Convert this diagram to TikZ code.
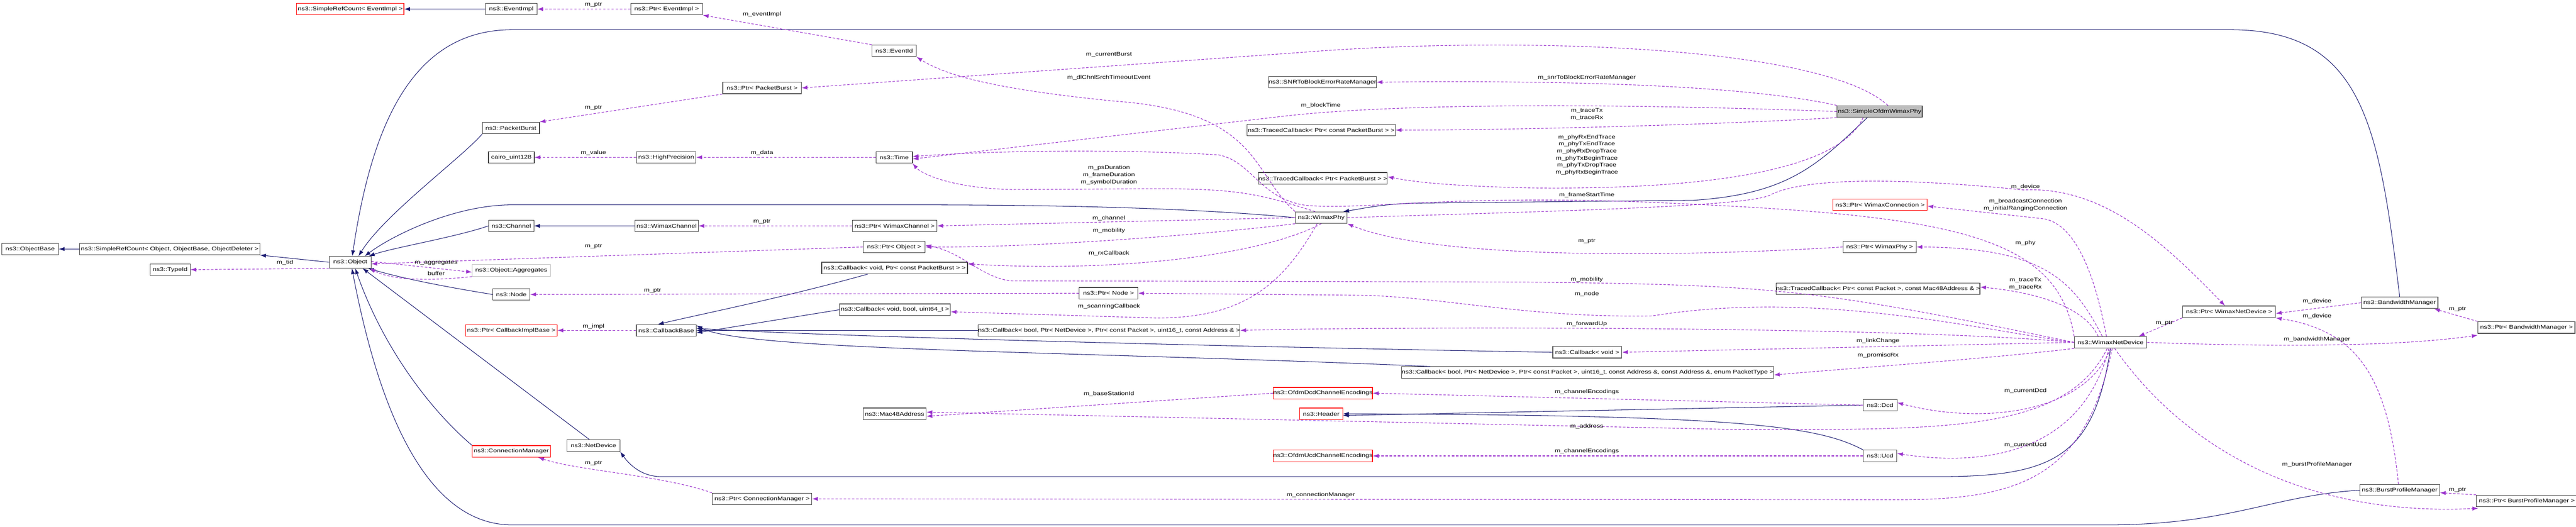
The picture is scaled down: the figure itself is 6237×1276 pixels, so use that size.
\documentclass[tikz,border=0pt]{standalone}
\usepackage{fontspec}
\setmainfont{Liberation Sans}
\usetikzlibrary{arrows.meta}
\definecolor{usec}{HTML}{9A32CD}
\definecolor{inhc}{HTML}{191970}
\newcommand\T[1]{\scalebox{1.25}[1]{#1}}
\tikzset{
 bx/.style={draw=black!75,line width=1.5pt,fill=white,minimum height=28pt,inner sep=0pt,font=\fontsize{13}{15}\selectfont},
 redbx/.style={bx,draw=red},
 graybx/.style={bx,draw=black!25},
 lab/.style={font=\fontsize{13}{15}\selectfont,align=center,inner sep=0pt},
 inh/.style={draw=inhc,line width=1.3pt,-{Latex[length=14pt,width=10pt]}},
 use/.style={draw=usec,line width=1.4pt,dash pattern=on 6pt off 4pt,-{Latex[length=14pt,width=10pt]}},
}
\begin{document}
\begin{tikzpicture}[x=1pt,y=-1pt]
\useasboundingbox (0,0) rectangle (6237,1276);
% nodes
\node[redbx,minimum width=260] (seri) at (848,22) {\T{ns3::SimpleRefCount< EventImpl >}};
\node[bx,minimum width=124] (evimpl) at (1238,22) {\T{ns3::EventImpl}};
\node[bx,minimum width=174] (ptrev) at (1614,22) {\T{ns3::Ptr< EventImpl >}};
\node[bx,minimum width=107] (evid) at (2165,123) {\T{ns3::EventId}};
\node[bx,minimum width=190] (ptrpb) at (1845,213) {\T{ns3::Ptr< PacketBurst >}};
\node[bx,minimum width=138] (pb) at (1237,310) {\T{ns3::PacketBurst}};
\node[bx,minimum width=249] (snr) at (3202,199) {\T{ns3::SNRToBlockErrorRateManager}};
\node[bx,fill=black!25,minimum width=206] (sofdm) at (4551,270) {\T{ns3::SimpleOfdmWimaxPhy}};
\node[bx,minimum width=359] (tcpb) at (3199,315) {\T{ns3::TracedCallback< Ptr< const PacketBurst > >}};
\node[bx,minimum width=311] (tcpb2) at (3203,432) {\T{ns3::TracedCallback< Ptr< PacketBurst > >}};
\node[bx,minimum width=111] (cairo) at (1238,381) {\T{cairo\_uint128}};
\node[bx,minimum width=144] (hp) at (1613,381) {\T{ns3::HighPrecision}};
\node[bx,minimum width=88] (time) at (2165,381) {\T{ns3::Time}};
\node[redbx,minimum width=228] (wconn) at (4552,496) {\T{ns3::Ptr< WimaxConnection >}};
\node[bx,minimum width=125] (phy) at (3199,527) {\T{ns3::WimaxPhy}};
\node[bx,minimum width=109] (chan) at (1238,547) {\T{ns3::Channel}};
\node[bx,minimum width=153] (wchan) at (1614,547) {\T{ns3::WimaxChannel}};
\node[bx,minimum width=205] (ptrwchan) at (2166,547) {\T{ns3::Ptr< WimaxChannel >}};
\node[bx,minimum width=177] (ptrphy) at (4551,598) {\T{ns3::Ptr< WimaxPhy >}};
\node[bx,minimum width=150] (ptrobj) at (2165,598) {\T{ns3::Ptr< Object >}};
\node[bx,minimum width=137] (objbase) at (73,603) {\T{ns3::ObjectBase}};
\node[bx,minimum width=436] (srcobj) at (411,603) {\T{ns3::SimpleRefCount< Object, ObjectBase, ObjectDeleter >}};
\node[bx,minimum width=101] (obj) at (848,635) {\T{ns3::Object}};
\node[bx,minimum width=97] (typeid) at (412,653) {\T{ns3::TypeId}};
\node[graybx,minimum width=189] (aggr) at (1238,655) {\T{ns3::Object::Aggregates}};
\node[bx,minimum width=353] (cbpb) at (2166,649) {\T{ns3::Callback< void, Ptr< const PacketBurst > >}};
\node[bx,minimum width=479] (tcmac) at (4547,699) {\T{ns3::TracedCallback< Ptr< const Packet >, const Mac48Address \& >}};
\node[bx,minimum width=142] (ptrnode) at (2684,710) {\T{ns3::Ptr< Node >}};
\node[bx,minimum width=90] (node) at (1238,713) {\T{ns3::Node}};
\node[bx,minimum width=185] (bwm) at (5810,733) {\T{ns3::BandwidthManager}};
\node[bx,minimum width=268] (cbscan) at (2167,750) {\T{ns3::Callback< void, bool, uint64\_t >}};
\node[bx,minimum width=225] (ptrwnd) at (5397,755) {\T{ns3::Ptr< WimaxNetDevice >}};
\node[bx,minimum width=235] (ptrbwm) at (6117,793) {\T{ns3::Ptr< BandwidthManager >}};
\node[redbx,minimum width=222] (cbib) at (1238,800) {\T{ns3::Ptr< CallbackImplBase >}};
\node[bx,minimum width=145] (cbbase) at (1613,800) {\T{ns3::CallbackBase}};
\node[bx,minimum width=633] (cbfwd) at (2685,800) {\T{ns3::Callback< bool, Ptr< NetDevice >, Ptr< const Packet >, uint16\_t, const Address \& >}};
\node[bx,minimum width=175] (wnd) at (5110,829) {\T{ns3::WimaxNetDevice}};
\node[bx,minimum width=167] (cbvoid) at (3843,853) {\T{ns3::Callback< void >}};
\node[bx,minimum width=878] (cbprom) at (3844,902) {\T{ns3::Callback< bool, Ptr< NetDevice >, Ptr< const Packet >, uint16\_t, const Address \&, const Address \&, enum PacketType >}};
\node[redbx,minimum width=233] (dcdenc) at (3203,952) {\T{ns3::OfdmDcdChannelEncodings}};
\node[bx,minimum width=82] (dcd) at (4552,981) {\T{ns3::Dcd}};
\node[bx,minimum width=153] (mac) at (2166,1002) {\T{ns3::Mac48Address}};
\node[redbx,minimum width=104] (header) at (3199,1002) {\T{ns3::Header}};
\node[bx,minimum width=128] (netdev) at (1437,1079) {\T{ns3::NetDevice}};
\node[redbx,minimum width=189] (connmgr) at (1238,1093) {\T{ns3::ConnectionManager}};
\node[redbx,minimum width=231] (ucdenc) at (3203,1104) {\T{ns3::OfdmUcdChannelEncodings}};
\node[bx,minimum width=81] (ucd) at (4552,1104) {\T{ns3::Ucd}};
\node[bx,minimum width=193] (bpm) at (5810,1187) {\T{ns3::BurstProfileManager}};
\node[bx,minimum width=241] (ptrconn) at (1845,1208) {\T{ns3::Ptr< ConnectionManager >}};
\node[bx,minimum width=244] (ptrbpm) at (6118,1213) {\T{ns3::Ptr< BurstProfileManager >}};
% inheritance
\draw[inh] (evimpl.west) -- (seri.east);
\draw[inh] (srcobj.west) -- (objbase.east);
\draw[inh] (obj.west) -- (srcobj.south east);
\draw[inh] (pb.south west) .. controls (1120,380) and (930,520) .. ([xshift=20pt]obj.north);
\draw[inh] (bwm.north) .. controls (5760,300) and (5720,72) .. (5400,72) -- (1240,72) .. controls (1000,72) and (900,300) .. ([xshift=5pt]obj.north);
\draw[inh] (phy.west) .. controls (2900,505) and (2600,496) .. (2200,496) -- (1240,496) .. controls (1100,496) and (950,570) .. ([xshift=35pt]obj.north);
\draw[inh] (chan.west) .. controls (1100,575) and (950,600) .. ([xshift=45pt]obj.north);
\draw[inh] (wchan.west) -- (chan.east);
\draw[inh] (node.west) .. controls (1050,690) and (960,670) .. ([xshift=-8pt]obj.south east);
\draw[inh] ([xshift=-10pt]netdev.north) -- ([xshift=30pt]obj.south);
\draw[inh] (connmgr.north west) .. controls (1050,1000) and (930,850) .. ([xshift=12pt]obj.south);
\draw[inh] (bpm.west) .. controls (5500,1200) and (5400,1271) .. (5100,1271) -- (1240,1271) .. controls (1000,1271) and (900,900) .. ([xshift=4pt]obj.south);
\draw[inh] ([xshift=-30pt]sofdm.south) .. controls (4400,400) and (4330,470) .. (4100,485) -- (3420,492) .. controls (3340,495) and (3300,505) .. ([xshift=-10pt]phy.north east);
\draw[inh] ([xshift=-65pt]cbpb.south) .. controls (1900,720) and (1700,760) .. ([xshift=-20pt]cbbase.north);
\draw[inh] (cbscan.west) -- ([yshift=-6pt]cbbase.east);
\draw[inh] (cbfwd.west) -- (cbbase.east);
\draw[inh] (cbvoid.west) .. controls (3000,840) and (2000,815) .. ([yshift=5pt]cbbase.east);
\draw[inh] ([xshift=70pt]cbprom.north west) .. controls (2600,850) and (1800,850) .. ([yshift=12pt]cbbase.east);
\draw[inh] (dcd.west) -- ([yshift=-4pt]header.east);
\draw[inh] (ucd.north west) .. controls (4400,1030) and (4200,1005) .. (header.east);
\draw[inh] (wnd.south) .. controls (5070,1100) and (4980,1154) .. (4700,1154) -- (1600,1154) .. controls (1550,1154) and (1520,1120) .. (netdev.south east);
% usage
\draw[use] (ptrev.west) -- (evimpl.east);
\node[lab] (l1) at (1437,12) {\T{m\_ptr}};
\draw[use] (evid.north west) -- (ptrev.south east);
\node[lab] (l2) at (1845,35) {\T{m\_eventImpl}};
\draw[use] (ptrpb.south west) -- (pb.north east);
\node[lab] (l3) at (1437,261) {\T{m\_ptr}};
\draw[use] ([xshift=20pt]sofdm.north) .. controls (4400,100) and (3600,90) .. (3150,127) -- (ptrpb.east);
\node[lab] (l4) at (2685,132) {\T{m\_currentBurst}};
\draw[use] (phy.north west) .. controls (3030,420) and (3050,270) .. (2700,245) .. controls (2450,220) and (2300,190) .. (evid.south east);
\node[lab] (l5) at (2685,188) {\T{m\_dlChnlSrchTimeoutEvent}};
\draw[use] (hp.west) -- (cairo.east);
\node[lab] (l6) at (1437,370) {\T{m\_value}};
\draw[use] (time.west) -- (hp.east);
\node[lab] (l7) at (1845,370) {\T{m\_data}};
\draw[use] (sofdm.west) .. controls (3900,250) and (3400,250) .. (3120,280) -- ([yshift=-4pt]time.east);
\node[lab] (l8) at (3198,256) {\T{m\_blockTime}};
\draw[use] (wnd.north west) .. controls (4980,560) and (4700,520) .. (4000,490) .. controls (3500,470) and (3300,510) .. (3160,497) .. controls (3050,480) and (3030,390) .. (2950,375) .. controls (2700,360) and (2400,365) .. ([yshift=2pt]time.east);
\node[lab] (l9) at (3842,473) {\T{m\_frameStartTime}};
\draw[use] ([xshift=-15pt]phy.north) .. controls (3050,470) and (3000,457) .. (2800,457) -- (2450,459) .. controls (2300,455) and (2230,420) .. (time.south east);
\node[lab] (l10) at (2685,424) {\T{m\_psDuration}\\[2pt]\T{m\_frameDuration}\\[2pt]\T{m\_symbolDuration}};
\draw[use] (phy.west) -- (ptrwchan.east);
\node[lab] (l11) at (2685,528) {\T{m\_channel}};
\draw[use] (phy.south west) .. controls (2900,570) and (2500,600) .. (ptrobj.east);
\node[lab] (l12) at (2685,558) {\T{m\_mobility}};
\draw[use] (phy.south) .. controls (3050,620) and (2700,660) .. ([yshift=10pt]cbpb.east);
\node[lab] (l13) at (2685,613) {\T{m\_rxCallback}};
\draw[use] (wnd.west) .. controls (4400,700) and (4300,690) .. (3700,683) -- (2450,680) .. controls (2380,675) and (2330,610) .. ([yshift=4pt]ptrobj.east);
\node[lab] (l14) at (3842,677) {\T{m\_mobility}};
\draw[use] (wnd.west) .. controls (4800,800) and (4400,700) .. (4000,765) .. controls (3700,770) and (3500,720) .. (3300,715) -- (ptrnode.east);
\node[lab] (l15) at (3842,712) {\T{m\_node}};
\draw[use] (ptrnode.west) -- (node.east);
\node[lab] (l16) at (1580,704) {\T{m\_ptr}};
\draw[use] ([xshift=-10pt]phy.south) .. controls (3100,700) and (3000,770) .. (2800,770) -- ([yshift=-5pt]cbscan.east);
\node[lab] (l17) at (2685,742) {\T{m\_scanningCallback}};
\draw[use] (wnd.west) .. controls (4600,790) and (3400,790) .. (cbfwd.east);
\node[lab] (l18) at (3842,784) {\T{m\_forwardUp}};
\draw[use] (wnd.west) -- (cbvoid.east);
\node[lab] (l19) at (4547,826) {\T{m\_linkChange}};
\draw[use] (wnd.south west) .. controls (4800,870) and (4500,890) .. ([yshift=-6pt]cbprom.east);
\node[lab] (l20) at (4547,861) {\T{m\_promiscRx}};
\draw[use] (wnd.south) .. controls (5050,1000) and (4800,1030) .. ([yshift=6pt]dcd.east);
\node[lab] (l21) at (4904,946) {\T{m\_currentDcd}};
\draw[use] ([xshift=-4pt]wnd.south) .. controls (5040,1100) and (4800,1130) .. ([yshift=6pt]ucd.east);
\node[lab] (l22) at (4904,1078) {\T{m\_currentUcd}};
\draw[use] ([xshift=-8pt]wnd.south) .. controls (5000,1050) and (4700,1040) .. (4200,1040) -- ([yshift=4pt]mac.east);
\node[lab] (l23) at (3842,1032) {\T{m\_address}};
\draw[use] (dcdenc.west) -- ([yshift=-6pt]mac.east);
\node[lab] (l24) at (2685,954) {\T{m\_baseStationId}};
\draw[use] (dcd.west) -- (dcdenc.east);
\node[lab] (l25) at (3842,949) {\T{m\_channelEncodings}};
\draw[use] (ucd.west) -- (ucdenc.east);
\node[lab] (l26) at (3842,1093) {\T{m\_channelEncodings}};
\draw[use] ([xshift=4pt]wnd.south) .. controls (5050,1150) and (4900,1210) .. (4600,1210) -- (ptrconn.east);
\node[lab] (l27) at (3198,1198) {\T{m\_connectionManager}};
\draw[use] (ptrconn.north west) .. controls (1600,1150) and (1400,1140) .. ([xshift=-30pt]connmgr.south east);
\node[lab] (l28) at (1437,1122) {\T{m\_ptr}};
\draw[use] (ptrobj.west) -- ([yshift=-4pt]obj.east);
\node[lab] (l29) at (1437,597) {\T{m\_ptr}};
\draw[use] (obj.south west) -- (typeid.east);
\node[lab] (l30) at (690,636) {\T{m\_tid}};
\draw[use] ([yshift=2pt]obj.east) -- ([yshift=-4pt]aggr.west);
\node[lab] (l31) at (1056,636) {\T{m\_aggregates}};
\draw[use] (aggr.south west) .. controls (1050,680) and (950,680) .. ([xshift=-4pt]obj.south east);
\node[lab] (l32) at (1056,662) {\T{buffer}};
\draw[use] (cbbase.west) -- (cbib.east);
\node[lab] (l33) at (1437,791) {\T{m\_impl}};
\draw[use] (ptrwchan.west) -- (wchan.east);
\node[lab] (l34) at (1845,537) {\T{m\_ptr}};
\draw[use] (phy.east) .. controls (3800,510) and (4250,500) .. (4290,470) .. controls (4400,420) and (4700,440) .. (4900,460) .. controls (5100,450) and (5250,600) .. ([xshift=-10pt]ptrwnd.north);
\node[lab] (l35) at (4904,453) {\T{m\_device}};
\draw[use] ([xshift=-10pt]wnd.north) .. controls (5060,600) and (5000,540) .. (4950,530) -- ([yshift=-3pt]wconn.east);
\node[lab] (l36) at (4904,496) {\T{m\_broadcastConnection}\\[3pt]\T{m\_initialRangingConnection}};
\draw[use] ([xshift=-20pt]wnd.north) .. controls (5020,680) and (4950,600) .. (ptrphy.east);
\node[lab] (l37) at (4904,588) {\T{m\_phy}};
\draw[use] (ptrphy.west) .. controls (4200,615) and (3500,640) .. (phy.south east);
\node[lab] (l38) at (3842,584) {\T{m\_ptr}};
\draw[use] ([xshift=-30pt]wnd.north) .. controls (5050,750) and (4950,710) .. ([yshift=4pt]tcmac.east);
\node[lab] (l39) at (4904,687) {\T{m\_traceTx}\\[3pt]\T{m\_traceRx}};
\draw[use] (sofdm.north west) .. controls (4200,200) and (3700,195) .. (snr.east);
\node[lab] (l40) at (3842,188) {\T{m\_snrToBlockErrorRateManager}};
\draw[use] (sofdm.south west) .. controls (4200,300) and (3700,315) .. (tcpb.east);
\node[lab] (l41) at (3842,277) {\T{m\_traceTx}\\[3pt]\T{m\_traceRx}};
\draw[use] ([xshift=-40pt]sofdm.south) .. controls (4450,420) and (4100,460) .. (3700,455) .. controls (3500,450) and (3420,440) .. ([yshift=4pt]tcpb2.east);
\node[lab] (l42) at (3842,375) {\T{m\_phyRxEndTrace}\\[2pt]\T{m\_phyTxEndTrace}\\[2pt]\T{m\_phyRxDropTrace}\\[2pt]\T{m\_phyTxBeginTrace}\\[2pt]\T{m\_phyTxDropTrace}\\[2pt]\T{m\_phyRxBeginTrace}};
\draw[use] (ptrwnd.south west) -- ([xshift=-20pt]wnd.north east);
\node[lab] (l43) at (5240,782) {\T{m\_ptr}};
\draw[use] (bwm.west) -- ([yshift=-4pt]ptrwnd.east);
\node[lab] (l44) at (5610,729) {\T{m\_device}};
\draw[use] ([xshift=-3pt]bpm.north) .. controls (5780,900) and (5700,800) .. (ptrwnd.south east);
\node[lab] (l45) at (5610,765) {\T{m\_device}};
\draw[use] (ptrbwm.north west) -- ([xshift=-10pt]bwm.south east);
\node[lab] (l46) at (5950,749) {\T{m\_ptr}};
\draw[use] (wnd.east) .. controls (5500,840) and (5800,840) .. ([yshift=-4pt]ptrbwm.south west);
\node[lab] (l47) at (5610,822) {\T{m\_bandwidthManager}};
\draw[use] (ptrbpm.north west) -- ([yshift=-6pt]bpm.east);
\node[lab] (l48) at (5950,1186) {\T{m\_ptr}};
\draw[use] ([xshift=10pt]wnd.south) .. controls (5300,1100) and (5600,1250) .. ([xshift=5pt,yshift=-3pt]ptrbpm.south west);
\node[lab] (l49) at (5610,1125) {\T{m\_burstProfileManager}};
\end{tikzpicture}
\end{document}
